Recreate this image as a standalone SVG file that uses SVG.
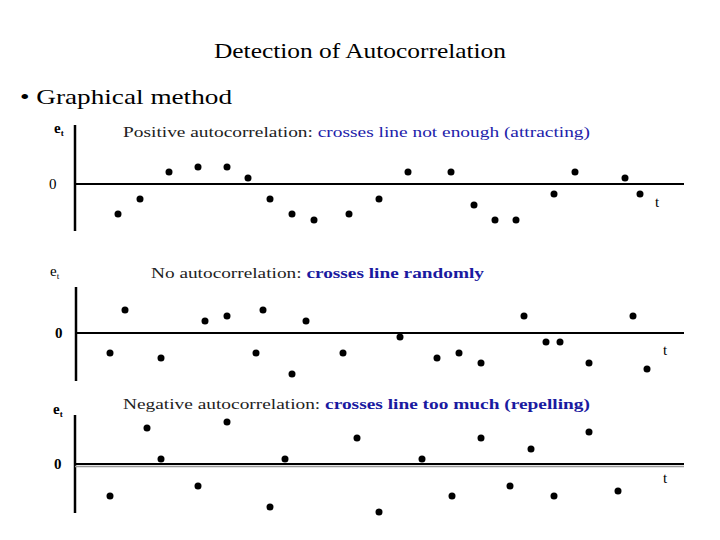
<svg xmlns="http://www.w3.org/2000/svg" width="720" height="540" viewBox="0 0 720 540">
<style>
.h{font-family:"Liberation Serif",serif;font-size:21px;fill:#000}
.t{font-family:"Liberation Serif",serif;font-size:15px;fill:#222}
.b{fill:#2222aa}
.bb{fill:#1a1aa0;font-weight:bold}
.ax{stroke:#000;stroke-width:2.5}
.zl{stroke:#000;stroke-width:2}
.d{fill:#000}
.lbl{font-family:"Liberation Serif",serif;font-size:15px;fill:#000}
</style>
<defs><circle id="p" r="3.5" class="d"/></defs>
<rect width="720" height="540" fill="#fff"/>
<text class="h" x="214" y="58" textLength="292" lengthAdjust="spacingAndGlyphs">Detection of Autocorrelation</text>
<text class="h" x="20" y="104" textLength="212" lengthAdjust="spacingAndGlyphs">•  Graphical method</text>
<g id="panel1">
<line class="ax" x1="75" y1="125" x2="75" y2="231"/>
<line class="zl" x1="75" y1="184" x2="684" y2="184"/>
<text class="lbl" x="54" y="133" font-weight="bold">e<tspan font-size="9" dy="3">t</tspan></text>
<text class="lbl" x="49" y="189">0</text>
<text class="lbl" x="655" y="207">t</text>
<text class="t" x="123" y="137" textLength="467" lengthAdjust="spacingAndGlyphs">Positive autocorrelation: <tspan class="b">crosses line not enough (attracting)</tspan></text>
<g>
<use href="#p" x="118" y="214"/><use href="#p" x="140" y="199"/><use href="#p" x="169" y="172"/><use href="#p" x="198" y="167"/><use href="#p" x="227" y="167"/><use href="#p" x="248" y="178"/><use href="#p" x="270" y="199"/><use href="#p" x="292" y="214"/><use href="#p" x="314" y="220"/><use href="#p" x="349" y="214"/><use href="#p" x="379" y="199"/><use href="#p" x="408" y="172"/><use href="#p" x="451" y="172"/><use href="#p" x="474" y="205"/><use href="#p" x="495" y="220"/><use href="#p" x="516" y="220"/><use href="#p" x="554" y="194"/><use href="#p" x="575" y="172"/><use href="#p" x="625" y="178"/><use href="#p" x="640" y="194"/>
</g>
</g>
<g id="panel2">
<line class="ax" x1="76" y1="287" x2="76" y2="381"/>
<line class="zl" x1="76" y1="333" x2="684" y2="333"/>
<text class="lbl" x="50" y="276">e<tspan font-size="9" dy="3">t</tspan></text>
<text class="lbl" x="55" y="338" font-weight="bold">0</text>
<text class="lbl" x="663" y="355">t</text>
<text class="t" x="151" y="278" textLength="333" lengthAdjust="spacingAndGlyphs">No autocorrelation: <tspan class="bb">crosses line randomly</tspan></text>
<g>
<use href="#p" x="110" y="353"/><use href="#p" x="125" y="310"/><use href="#p" x="161" y="358"/><use href="#p" x="205" y="321"/><use href="#p" x="227" y="316"/><use href="#p" x="256" y="353"/><use href="#p" x="263" y="310"/><use href="#p" x="292" y="374"/><use href="#p" x="306" y="321"/><use href="#p" x="343" y="353"/><use href="#p" x="400" y="337"/><use href="#p" x="437" y="358"/><use href="#p" x="459" y="353"/><use href="#p" x="481" y="363"/><use href="#p" x="524" y="316"/><use href="#p" x="546" y="342"/><use href="#p" x="560" y="342"/><use href="#p" x="589" y="363"/><use href="#p" x="633" y="316"/><use href="#p" x="647" y="369"/>
</g>
</g>
<g id="panel3">
<line class="ax" x1="75" y1="415" x2="75" y2="513"/>
<line x1="75" y1="464" x2="684" y2="464" stroke="#000" stroke-width="2"/>
<line x1="75" y1="466.5" x2="684" y2="466.5" stroke="#999" stroke-width="1.5"/>
<text class="lbl" x="53" y="414" font-weight="bold">e<tspan font-size="9" dy="3">t</tspan></text>
<text class="lbl" x="54" y="469" font-weight="bold">0</text>
<text class="lbl" x="663" y="483">t</text>
<text class="t" x="123" y="409" textLength="467" lengthAdjust="spacingAndGlyphs">Negative autocorrelation: <tspan class="bb">crosses line too much (repelling)</tspan></text>
<g>
<use href="#p" x="110" y="496"/><use href="#p" x="147" y="428"/><use href="#p" x="161" y="459"/><use href="#p" x="198" y="486"/><use href="#p" x="227" y="422"/><use href="#p" x="270" y="507"/><use href="#p" x="285" y="459"/><use href="#p" x="357" y="438"/><use href="#p" x="379" y="512"/><use href="#p" x="422" y="459"/><use href="#p" x="452" y="496"/><use href="#p" x="481" y="438"/><use href="#p" x="510" y="486"/><use href="#p" x="531" y="449"/><use href="#p" x="554" y="496"/><use href="#p" x="589" y="432"/><use href="#p" x="618" y="491"/>
</g>
</g>
</svg>
